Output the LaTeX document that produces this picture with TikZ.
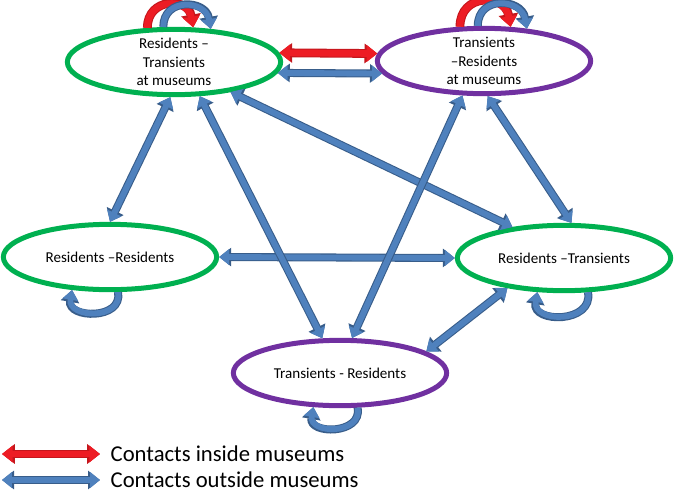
\documentclass[tikz,border=0pt]{standalone}
\usepackage{fontspec}
\setmainfont{Carlito}
\usetikzlibrary{arrows.meta,shapes.geometric}

\definecolor{resgreen}{RGB}{0,176,80}
\definecolor{trpurple}{RGB}{112,48,160}
\definecolor{bluefill}{RGB}{79,129,189}
\definecolor{bluedark}{RGB}{56,93,138}
\definecolor{redfill}{RGB}{237,28,36}
\definecolor{reddark}{RGB}{196,22,28}

\tikzset{
  state/.style={ellipse, draw, fill=white, line width=3.75pt,
    minimum width=160pt, minimum height=49pt,
    inner xsep=0pt, inner ysep=-2pt, align=center,
    font=\fontsize{11.3}{14}\selectfont},
  resident/.style={state, draw=resgreen},
  transient/.style={state, draw=trpurple},
  >={Triangle[length=3pt 1, width=6pt 1.25]},
  outside/.style={draw=bluefill, line width=4.4pt,
    preaction={draw=bluedark, line width=6pt}},
  inside/.style={draw=redfill, line width=5pt,
    preaction={draw=reddark, line width=6.6pt}},
  legend/.style={anchor=west, font=\fontsize{17}{20}\selectfont}
}

\begin{document}
\begin{tikzpicture}[x=0.75pt, y=-0.75pt]
\useasboundingbox (0,0) rectangle (675,493);
% the five groups of contacts
\node[resident] (rtm) at (174,62) {Residents –\\Transients\\at museums};
\node[transient] (trm) at (484,61) {Transients\\–Residents\\at museums};
\node[resident] (rr) at (110,257) {Residents –Residents};
\node[resident] (rt) at (564,258) {Residents –Transients};
\node[transient] (tr) at (340,373) {Transients - Residents};
%
\draw[inside,<->] (rtm.5) -- (trm.176);
\draw[outside,<->] (rtm.-6) -- (trm.-173);
\draw[outside,<->] (rr.0) -- (rt.180);
\draw[outside,<->] (rtm.-96) -- (rr.90);
\draw[outside,<->] (rtm.-53) -- (tr.117);
\draw[outside,<->] (rtm.-28) -- (rt.149);
\draw[outside,<->] (trm.-122) -- (tr.71);
\draw[outside,<->] (trm.-84) -- (rt.78);
\draw[outside,<->] (tr.14) -- (rt.-152);
% loops
\draw[inside,->] (rtm.128) to[out=90,in=100,looseness=1.7] (rtm.61);
\draw[outside,->] (rtm.107) to[out=90,in=100,looseness=1.6] (rtm.42);
\draw[inside,->] (trm.125) to[out=90,in=100,looseness=1.7] (trm.52);
\draw[outside,->] (trm.100) to[out=90,in=100,looseness=1.6] (trm.37);
\draw[outside,->] (rr.-77) to[out=-80,in=-100,looseness=1.6] (rr.-139);
\draw[outside,->] (rt.-55) to[out=-80,in=-100,looseness=1.6] (rt.-128);
\draw[outside,->] (tr.-63) to[out=-80,in=-100,looseness=1.6] (tr.-128);
% legend
\coordinate (ins1) at (2,454);
\coordinate (ins2) at (100,454);
\coordinate (outs1) at (2,480);
\coordinate (outs2) at (100,480);
\draw[inside,<->] (ins1) -- (ins2);
\draw[outside,<->] (outs1) -- (outs2);
\node[legend] (inslab) at (106,454) {Contacts inside museums};
\node[legend] (outslab) at (106,480) {Contacts outside museums};
\end{tikzpicture}
\end{document}
